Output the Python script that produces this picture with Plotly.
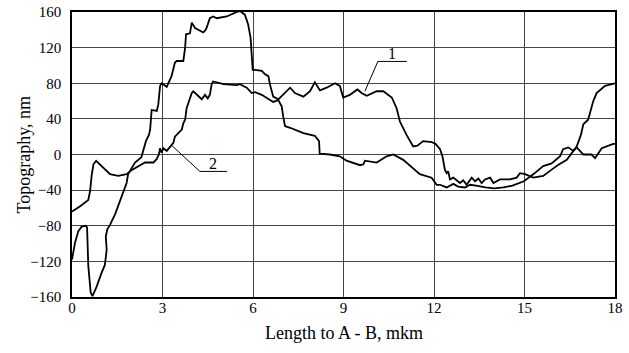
import plotly.graph_objects as go

# Curve 1 (labelled "1")
x1 = [0.0, 0.1, 0.21, 0.32, 0.46, 0.5, 0.54, 0.62, 0.68, 0.82, 0.98, 1.09, 1.15, 1.12, 1.17, 1.26, 1.43, 1.53,
      1.70, 1.81, 1.86, 2.09, 2.3, 2.36, 2.45, 2.55, 2.59, 2.64, 2.81, 2.86, 2.92, 2.97, 3.08, 3.14, 3.3, 3.41,
      3.47, 3.69, 3.75, 3.78, 3.91, 3.97, 4.08, 4.35, 4.41, 4.46, 4.57, 4.68, 4.8, 5.13, 5.46, 5.57, 5.73, 5.84,
      5.92, 5.96, 5.99, 6.07, 6.29, 6.4, 6.51, 6.56, 6.67, 6.84, 7.0, 7.23, 7.39, 7.67, 7.89, 8.05, 8.22, 8.44,
      8.72, 8.88, 8.99, 9.21, 9.46, 9.6, 9.77, 10.1, 10.32, 10.6, 10.76, 10.87, 11.09, 11.31, 11.45, 11.64,
      11.92, 12.05, 12.2, 12.28, 12.36, 12.42, 12.47, 12.53, 12.64, 12.75, 12.86, 12.97, 13.08, 13.25, 13.36,
      13.47, 13.58, 13.69, 13.86, 13.97, 14.19, 14.52, 14.74, 14.85, 15.02, 15.29, 15.62, 15.9, 16.1, 16.4,
      16.56, 16.73, 16.87, 16.95, 17.11, 17.28, 17.39, 17.67, 18.0]
y1 = [-118, -99, -86, -81, -80, -82, -125, -155, -159, -148, -133, -124, -107, -92, -84, -79, -67, -58,
      -43, -32, -22, -9, -3, 5, 15, 22, 28, 50, 49, 56, 77, 80, 77, 76, 88, 103,
      105, 105, 120, 135, 136, 148, 142, 137, 139, 142, 153, 155, 153, 155, 160, 161, 157, 146,
      131, 112, 95, 95, 94, 90, 88, 79, 65, 62, 67, 75, 69, 65, 71, 81, 72, 75,
      80, 77, 64, 67, 73, 69, 66, 71, 71, 64, 52, 37, 22, 9, 10, 15,
      14, 12, 6, -2, -17, -21, -19, -28, -26, -29, -32, -29, -34, -26, -30,
      -27, -32, -28, -26, -32, -28, -28, -26, -21, -22, -26, -24, -17, -12, -6,
      2, 9, 22, 34, 39, 60, 69, 77, 80]

# Curve 2 (labelled "2")
x2 = [0.0, 0.27, 0.54, 0.6, 0.65, 0.71, 0.8, 0.93, 1.09, 1.26, 1.53, 1.81, 2.0, 2.2, 2.42, 2.7, 2.81, 2.88,
      2.92, 2.97, 3.03, 3.14, 3.36, 3.41, 3.52, 3.64, 3.69, 3.75, 3.8, 3.91, 3.97, 4.02, 4.13, 4.24, 4.3, 4.41,
      4.5, 4.57, 4.63, 4.68, 5.02, 5.46, 5.57, 5.79, 5.96, 6.07, 6.29, 6.45, 6.67, 6.84, 6.95, 7.0, 7.06, 7.23,
      7.67, 8.05, 8.19, 8.21, 8.55, 8.88, 9.1, 9.55, 9.66, 9.71, 10.1, 10.43, 10.65, 10.98, 11.31, 11.53, 11.92,
      12.09, 12.2, 12.42, 12.64, 12.8, 13.03, 13.19, 13.4, 13.7, 14.0, 14.3, 14.6, 14.98, 15.3, 15.62, 15.9,
      16.18, 16.28, 16.45, 16.62, 16.73, 16.95, 17.22, 17.34, 17.56, 17.94, 18.0]
y2 = [-64, -58, -51, -41, -24, -11, -7, -11, -17, -22, -24, -22, -17, -13, -9, -9, -5, 0,
      7, 2, 7, 4, 13, 20, 24, 28, 35, 39, 52, 64, 69, 71, 68, 64, 62, 67,
      63, 67, 79, 82, 79, 78, 79, 75, 69, 70, 67, 64, 59, 61, 54, 43, 32, 30,
      24, 21, 15, 1, 0, -2, -7, -12, -11, -7, -9, -2, 0, -6, -15, -22, -26,
      -34, -34, -37, -33, -36, -37, -34, -35, -37, -38, -37, -35, -30, -22, -13, -10,
      -2, 6, 8, 4, 8, 0, 0, -4, 7, 12, 12]

x_ticks = [0, 3, 6, 9, 12, 15, 18]
y_ticks = [-160, -120, -80, -40, 0, 40, 80, 120, 160]

FONT = "Liberation Serif, Times New Roman, serif"

fig = go.Figure()
fig.add_trace(go.Scatter(x=x1, y=y1, mode="lines", line=dict(color="black", width=1.8), name="1"))
fig.add_trace(go.Scatter(x=x2, y=y2, mode="lines", line=dict(color="black", width=1.8), name="2"))

# label leaders
fig.add_shape(type="line", x0=10.14, y0=104.5, x1=11.1, y1=104.5, line=dict(color="black", width=1))
fig.add_shape(type="line", x0=10.14, y0=104.5, x1=9.71, y1=71, line=dict(color="black", width=1))
fig.add_shape(type="line", x0=4.24, y0=-19, x1=5.14, y1=-19, line=dict(color="black", width=1))
fig.add_shape(type="line", x0=4.24, y0=-19, x1=3.31, y1=10, line=dict(color="black", width=1))
fig.add_annotation(x=10.6, y=104.5, text="1", showarrow=False, yanchor="bottom", yshift=-3,
                   font=dict(family=FONT, size=16, color="black"))
fig.add_annotation(x=4.69, y=-19, text="2", showarrow=False, yanchor="bottom", yshift=-3,
                   font=dict(family=FONT, size=16, color="black"))
# y-axis title
fig.add_annotation(xref="paper", yref="paper", x=-49 / 543, y=0.5, text="Topography, nm",
                   textangle=-90, showarrow=False, xanchor="center", yanchor="middle",
                   font=dict(family=FONT, size=18, color="black"))
# x-axis title
fig.add_annotation(xref="paper", yref="paper", x=0.5, y=-36 / 285, text="Length to A - B, mkm",
                   showarrow=False, xanchor="center", yanchor="middle",
                   font=dict(family=FONT, size=18, color="black"))

fig.update_layout(
    width=629, height=353,
    margin=dict(l=72, r=14, t=12, b=56),
    paper_bgcolor="white", plot_bgcolor="white",
    showlegend=False,
    font=dict(family=FONT, size=15, color="black"),
)
fig.update_xaxes(range=[0, 18], tickvals=x_ticks, ticks="", showgrid=True, gridcolor="#444", gridwidth=1,
                 zeroline=False, showline=True, linecolor="black", linewidth=1.5, mirror=True,
                 automargin=False, ticklabelstandoff=-4,
                 tickfont=dict(family=FONT, size=15, color="black"))
fig.update_yaxes(range=[-160, 160], tickvals=y_ticks, ticks="", showgrid=True, gridcolor="#444", gridwidth=1,
                 zeroline=False, showline=True, linecolor="black", linewidth=1.5, mirror=True,
                 automargin=False, ticklabelstandoff=6,
                 tickfont=dict(family=FONT, size=15, color="black"))

fig.write_html("out.html", config={"displayModeBar": False},
               post_script="document.body.style.margin='0';document.body.style.overflow='hidden';")
